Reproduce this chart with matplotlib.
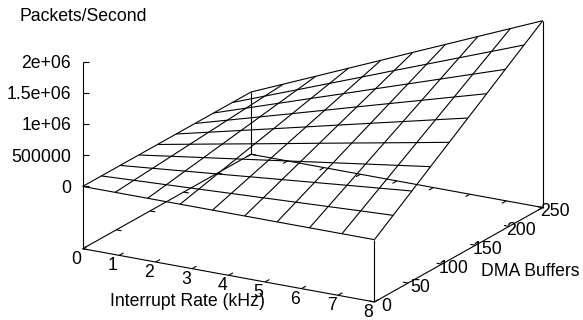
import numpy as np
import matplotlib
matplotlib.use("Agg")
import matplotlib.pyplot as plt
from matplotlib.markers import TICKRIGHT
from mpl_toolkits.mplot3d import proj3d

plt.rcParams["font.family"] = ["Liberation Sans", "DejaVu Sans"]
plt.rcParams["font.size"] = 12.7

# Sample grid: interrupt rate (kHz) along x, DMA buffers along y
interrupt_khz = [0, 0.89, 1.78, 2.67, 3.56, 4.44, 5.33, 6.22, 7.11, 8]
dma_buffers = [0, 27.8, 55.6, 83.3, 111.1, 138.9, 166.7, 194.4, 222.2, 250]

# Packets per second, one row per interrupt rate, one column per buffer count
packets_per_sec = [
    [0, 0, 0, 0, 0, 0, 0, 0, 0, 0],
    [0, 25000, 49000, 74000, 99000, 123000, 148000, 173000, 198000, 222000],
    [0, 49000, 99000, 148000, 198000, 247000, 296000, 346000, 395000, 444000],
    [0, 74000, 148000, 222000, 296000, 370000, 444000, 519000, 593000, 667000],
    [0, 99000, 198000, 296000, 395000, 494000, 593000, 691000, 790000, 889000],
    [0, 123000, 247000, 370000, 494000, 617000, 741000, 864000, 988000, 1111000],
    [0, 148000, 296000, 444000, 593000, 741000, 889000, 1037000, 1185000, 1333000],
    [0, 173000, 346000, 519000, 691000, 864000, 1037000, 1210000, 1383000, 1556000],
    [0, 198000, 395000, 593000, 790000, 988000, 1185000, 1383000, 1580000, 1778000],
    [0, 222000, 444000, 667000, 889000, 1111000, 1333000, 1556000, 1778000, 2000000],
]

x_ticks = [0, 1, 2, 3, 4, 5, 6, 7, 8]
y_ticks = [0, 50, 100, 150, 200, 250]
z_ticks = [0, 500000, 1000000, 1500000, 2000000]
z_tick_labels = ["0", "500000", "1e+06", "1.5e+06", "2e+06"]

x_range = (0, 8)
y_range = (0, 250)
z_range = (0, 2000000)
z_base = -1000000  # floor of the box sits half a z-range below zero

LW = 0.8
INK = "black"

fig = plt.figure(figsize=(5.83, 3.2), dpi=100)
ax = fig.add_axes([0.1, 0.1, 0.8, 0.8], projection="3d", proj_type="ortho")
ax.view_init(elev=18.66, azim=-60.3)
ax.set_box_aspect((336.2, 340.1, 197.4))
ax.set_axis_off()

X, Y = np.meshgrid(interrupt_khz, dma_buffers, indexing="ij")
Z = np.array(packets_per_sec, dtype=float)
ax.plot_wireframe(X, Y, Z, rcount=len(interrupt_khz), ccount=len(dma_buffers),
                  color=INK, linewidth=LW)

x0, x1 = x_range
y0, y1 = y_range


def seg(p, q):
    ax.plot([p[0], q[0]], [p[1], q[1]], [p[2], q[2]], color=INK, linewidth=LW,
            solid_capstyle="butt")


# Base of the box
seg((x0, y0, z_base), (x1, y0, z_base))
seg((x1, y0, z_base), (x1, y1, z_base))
seg((x0, y0, z_base), (x0, y1, z_base))
seg((x0, y1, z_base), (x1, y1, z_base))
# Vertical z axis
seg((x0, y0, z_base), (x0, y0, z_range[1]))
# Drop lines from the surface corners to the base
seg((x1, y0, z_base), (x1, y0, Z[-1, 0]))
seg((x1, y1, z_base), (x1, y1, Z[-1, -1]))
seg((x0, y1, z_base), (x0, y1, Z[0, -1]))

# Tick marks
tick_dy = 6.5
tick_dx = 0.14
for xv in x_ticks:
    seg((xv, y0, z_base), (xv, y0 + tick_dy, z_base))
    seg((xv, y1, z_base), (xv, y1 - tick_dy, z_base))
for yv in y_ticks:
    seg((x1, yv, z_base), (x1 - tick_dx, yv, z_base))
    seg((x0, yv, z_base), (x0 + tick_dx, yv, z_base))
ax.plot([x0] * len(z_ticks), [y0] * len(z_ticks), z_ticks, linestyle="none",
        marker=TICKRIGHT, markersize=4.1, markeredgewidth=LW, color=INK)

ax.set_xlim(*x_range)
ax.set_ylim(*y_range)
ax.set_zlim(z_base, z_range[1])
# The built-in 3D axes stay hidden; ticks and labels are drawn explicitly below
ax.set_xticks([])
ax.set_yticks([])
ax.set_zticks([])


def project(x, y, z):
    px, py, _ = proj3d.proj_transform(np.atleast_1d(np.asarray(x, float)),
                                      np.atleast_1d(np.asarray(y, float)),
                                      np.atleast_1d(np.asarray(z, float)), ax.M)
    return np.column_stack([px, py])


# Place the square 3D axes so the base of the box lands where intended
W, H = fig.bbox.width, fig.bbox.height
anchor_a = np.array([82.7, H - 248.7])
anchor_b = np.array([542.7, H - 207.0])
for _ in range(3):
    fig.canvas.draw()
    a, b = ax.transData.transform(project([x0, x1], [y0, y1], [z_base, z_base]))
    s = np.linalg.norm(anchor_b - anchor_a) / np.linalg.norm(b - a)
    box = ax.bbox
    c = np.array([box.x0 + box.width / 2, box.y0 + box.height / 2])
    new_c = anchor_a - s * (a - c)
    side = s * box.width
    ax.set_position([(new_c[0] - side / 2) / W, (new_c[1] - side / 2) / H,
                     side / W, side / H])
fig.canvas.draw()


def label3d(x, y, z, text, dx, dy, **kw):
    xy = project(x, y, z)[0]
    ax.annotate(text, xy=xy, xycoords="data", xytext=(dx, dy),
                textcoords="offset pixels", va="baseline",
                annotation_clip=False, **kw)


for zv, lab in zip(z_ticks, z_tick_labels):
    label3d(x0, y0, zv, lab, -11.7, -6.3, ha="right")
for xv in x_ticks:
    label3d(xv, y0, z_base, str(xv), -6.3, -14.9, ha="center")
for yv in y_ticks:
    label3d(x1, yv, z_base, str(yv), 12.0, -8.8, ha="center")

label3d((x0 + x1) / 2, y0, z_base, "Interrupt Rate (kHz)", -41.2, -30.6, ha="center")
label3d(x1, (y0 + y1) / 2, z_base, "DMA Buffers", 72.0, -21.3, ha="center")
label3d(x0, y0, z_range[1], "Packets/Second", 0.3, 40.7, ha="center")

fig.savefig("out.png", dpi=100)
